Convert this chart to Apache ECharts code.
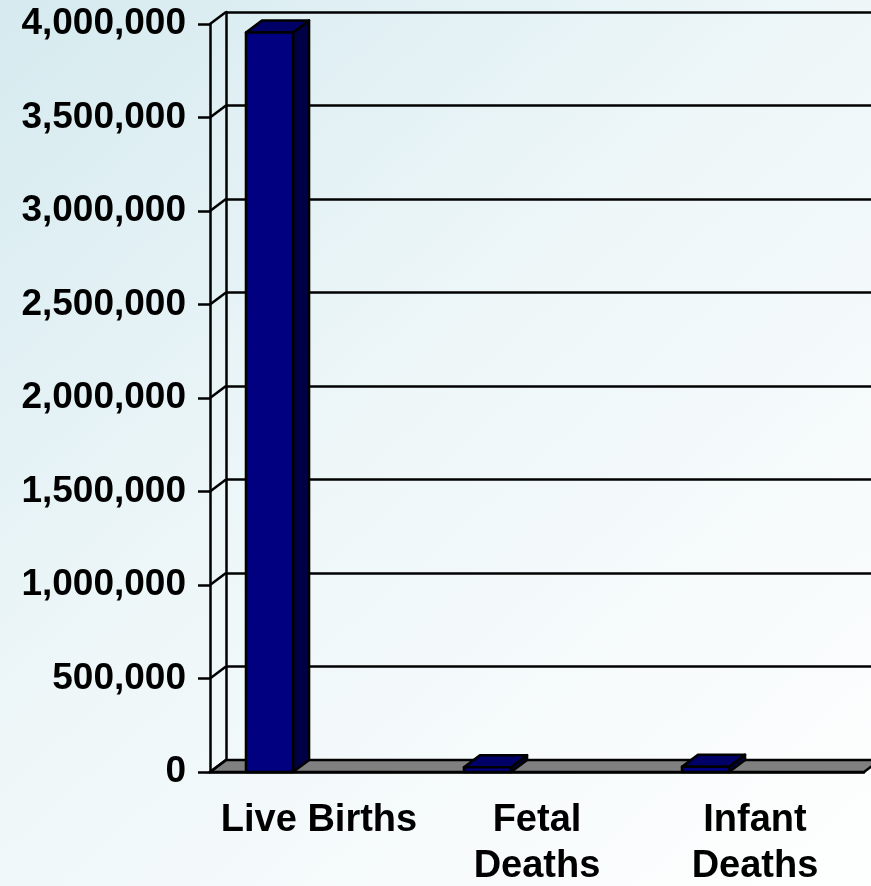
<!DOCTYPE html>
<html>
<head>
<meta charset="utf-8">
<script src="https://cdn.jsdelivr.net/npm/echarts@6/dist/echarts.min.js"></script>
<style>
    html, body { margin: 0; padding: 0; }
    #chart { width: 871px; height: 886px; }
</style>
</head>
<body>
<div id="chart"></div>
<script type="text/javascript">
    // data
    const categories = ['Live Births', 'Fetal\nDeaths', 'Infant\nDeaths'];
    const counts = [3955000, 26000, 28000];
    const yTicks = [0, 500000, 1000000, 1500000, 2000000, 2500000, 3000000, 3500000, 4000000];

    // depth offset of the 3D look (px)
    const DX = 16, DY = -12;
    const LW = 2.5;
    const font = 'Liberation Sans, Arial, sans-serif';

    function fmt(v) {
        return String(v).replace(/\B(?=(\d{3})+(?!\d))/g, ',');
    }

    let chart = echarts.init(document.getElementById('chart'));

    let option = {
        animation: false,
        backgroundColor: {
            type: 'linear', x: 0, y: 0, x2: 0.9, y2: 1,
            colorStops: [
                {offset: 0, color: '#d5eaef'},
                {offset: 0.45, color: '#edf6f8'},
                {offset: 1, color: '#fdfefe'}
            ]
        },
        grid: [
            // back wall
            {left: 210 + DX, right: 7 - DX, top: 24 + DY, bottom: 114 - DY, outerBoundsMode: 'none'},
            // front plane
            {left: 210, right: 7, top: 24, bottom: 114, outerBoundsMode: 'none'}
        ],
        xAxis: [{
            gridIndex: 0,
            type: 'category',
            data: categories,
            show: false
        }, {
            gridIndex: 1,
            type: 'category',
            data: categories,
            axisLine: {lineStyle: {color: '#000', width: LW}},
            axisTick: {length: 12, lineStyle: {color: '#000', width: LW}},
            axisLabel: {
                interval: 0,
                hideOverlap: false,
                margin: 26,
                color: '#000',
                fontFamily: font,
                fontWeight: 'bold',
                fontSize: 38,
                lineHeight: 46
            }
        }],
        yAxis: [{
            gridIndex: 0,
            type: 'value',
            min: 0,
            max: 4000000,
            interval: 500000,
            axisLine: {show: true, lineStyle: {color: '#000', width: LW}},
            axisTick: {show: false},
            axisLabel: {show: false},
            splitLine: {lineStyle: {color: '#000', width: LW}}
        }, {
            gridIndex: 1,
            type: 'value',
            min: 0,
            max: 4000000,
            interval: 500000,
            axisLine: {show: true, lineStyle: {color: '#000', width: LW}},
            axisTick: {show: true, length: 12, lineStyle: {color: '#000', width: LW}},
            axisLabel: {
                margin: 24,
                color: '#000',
                fontFamily: font,
                fontWeight: 'bold',
                fontSize: 37,
                formatter: fmt
            },
            splitLine: {show: false}
        }],
        series: [{
            // floor
            name: 'floor',
            type: 'custom',
            xAxisIndex: 1,
            yAxisIndex: 1,
            z: 1,
            data: [[0, 0]],
            renderItem: function (params, api) {
                let cs = params.coordSys;
                let y = cs.y + cs.height;
                let x1 = cs.x, x2 = cs.x + cs.width;
                return {
                    type: 'polygon',
                    shape: {points: [[x1, y], [x1 + DX, y + DY], [x2 + DX, y + DY], [x2, y]]},
                    style: {fill: '#808080', stroke: '#000', lineWidth: LW}
                };
            }
        }, {
            // side wall edges
            name: 'wall',
            type: 'custom',
            xAxisIndex: 1,
            yAxisIndex: 1,
            z: 1,
            data: yTicks.map(v => [0, v]),
            renderItem: function (params, api) {
                let cs = params.coordSys;
                let y = api.coord([0, api.value(1)])[1];
                return {
                    type: 'line',
                    shape: {x1: cs.x, y1: y, x2: cs.x + DX, y2: y + DY},
                    style: {stroke: '#000', lineWidth: LW}
                };
            }
        }, {
            name: 'Count',
            type: 'custom',
            xAxisIndex: 1,
            yAxisIndex: 1,
            z: 3,
            data: counts.map((v, i) => [i, v]),
            renderItem: function (params, api) {
                let top = api.coord([api.value(0), api.value(1)]);
                let base = api.coord([api.value(0), 0]);
                let bw = api.size([1, 0])[0];
                let x0 = top[0] - 0.335 * bw;
                let w = 0.216 * bw;
                let yt = top[1], yb = base[1];
                let line = {stroke: '#000', lineWidth: LW, lineJoin: 'round'};
                return {
                    type: 'group',
                    children: [{
                        type: 'polygon',
                        shape: {points: [[x0 + w, yt], [x0 + w + DX, yt + DY], [x0 + w + DX, yb + DY], [x0 + w, yb]]},
                        style: Object.assign({fill: '#000044'}, line)
                    }, {
                        type: 'polygon',
                        shape: {points: [[x0, yt], [x0 + DX, yt + DY], [x0 + w + DX, yt + DY], [x0 + w, yt]]},
                        style: Object.assign({fill: '#000066'}, line)
                    }, {
                        type: 'rect',
                        shape: {x: x0, y: yt, width: w, height: yb - yt},
                        style: Object.assign({fill: '#000080'}, line)
                    }]
                };
            }
        }]
    };

    chart.setOption(option);
</script>
</body>
</html>
